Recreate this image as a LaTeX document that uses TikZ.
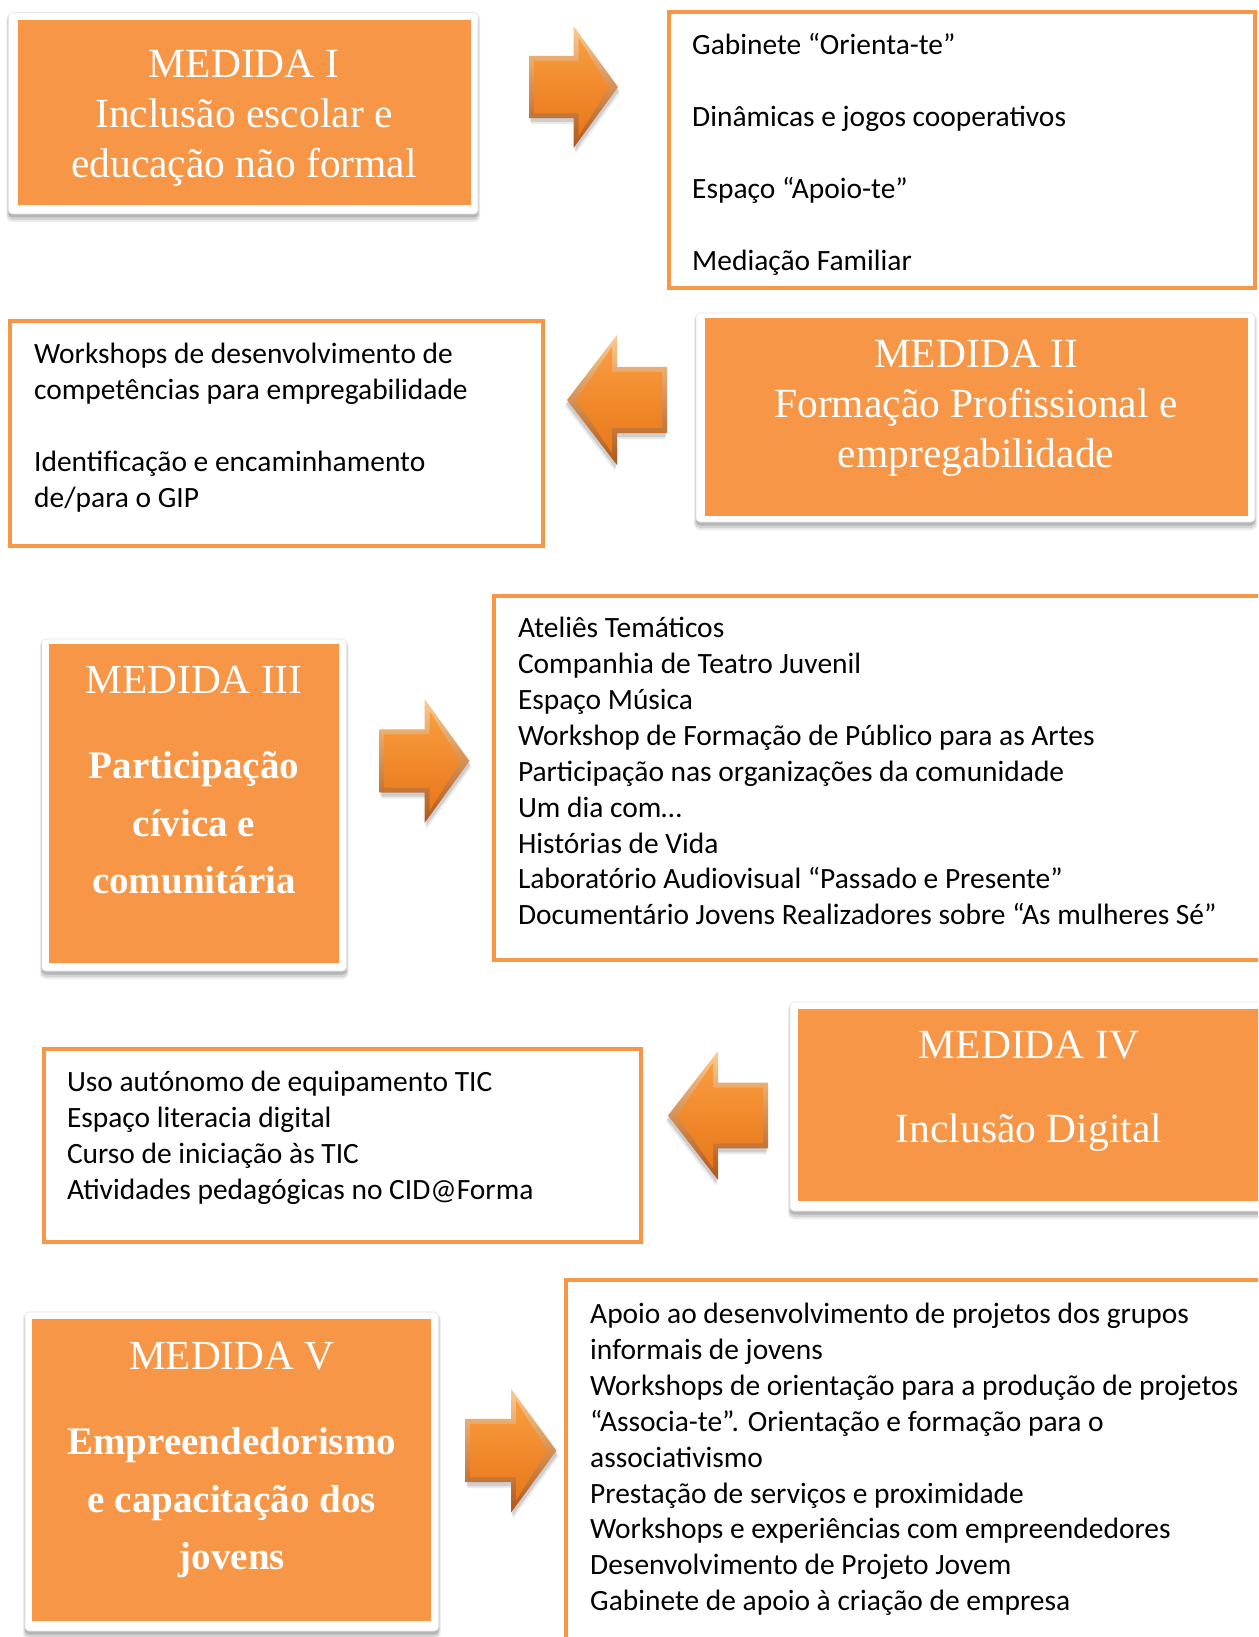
\documentclass[tikz,border=0pt]{standalone}
\usepackage{fontspec}
\setmainfont{Liberation Serif}
\newfontfamily\bodyfont{Carlito}
\usetikzlibrary{calc}
\definecolor{accent}{HTML}{F79646}
\definecolor{arrlight}{HTML}{FDCB8E}
\definecolor{arrdark}{HTML}{B0561A}
\definecolor{arrtop}{HTML}{F99C40}
\definecolor{arrmid}{HTML}{F58A20}
\definecolor{arrbot}{HTML}{E8781A}
\tikzset{
  listframe/.style={draw=accent, line width=4pt},
  listtext/.style={anchor=north west, inner sep=0pt, align=left,
    font=\bodyfont\fontsize{29.45}{35.9}\selectfont},
  medtext/.style={anchor=north, inner sep=0pt, align=center, text=white},
  medfill/.style={fill=accent},
  medframe/.style={fill=white, draw=black!10, line width=0.6pt, rounded corners=4pt},
}
\newcommand\bt{\bfseries\fontsize{39}{57.5}\selectfont}
% #1..#4 frame corners, #5..#8 orange corners
\newcommand\medbox[8]{%
  \fill[black, opacity=0.08, rounded corners=6pt] (#1-2,#2+1) rectangle (#3+2,#4+8);
  \fill[black, opacity=0.10, rounded corners=5pt] (#1-1,#2+2) rectangle (#3+1,#4+6);
  \fill[black, opacity=0.14, rounded corners=4pt] (#1,#2+3) rectangle (#3,#4+3.5);
  \path[medframe] (#1,#2) rectangle (#3,#4);
  \path[medfill] (#5,#6) rectangle (#7,#8);
}
% #1 direction (1 right, -1 left), #2 cx, #3 cy, #4 W, #5 H
\newcommand\blockarrow[5]{%
  \begin{scope}[shift={(#2,#3)}, xscale=#1]
    \pgfmathsetmacro\hw{#4/2}
    \pgfmathsetmacro\hh{#5/2}
    \pgfmathsetmacro\sh{0.255*#5}
    \def\bv{5}
    \fill[black, opacity=0.08, shift={(2,6)}]
      (-\hw,-\sh) -- (0,-\sh) -- (0,-\hh) -- (\hw,0) -- (0,\hh) -- (0,\sh) -- (-\hw,\sh) -- cycle;
    \fill[black, opacity=0.12, shift={(1,4)}]
      (-\hw,-\sh) -- (0,-\sh) -- (0,-\hh) -- (\hw,0) -- (0,\hh) -- (0,\sh) -- (-\hw,\sh) -- cycle;
    \shade[top color=arrlight, bottom color=arrdark]
      (-\hw,-\sh) -- (0,-\sh) -- (0,-\hh) -- (\hw,0) -- (0,\hh) -- (0,\sh) -- (-\hw,\sh) -- cycle;
    \shade[top color=arrtop, middle color=arrmid, bottom color=arrbot]
      ({-\hw+\bv},{-\sh+\bv}) -- (\bv,{-\sh+\bv}) -- (\bv,{-\hh+2.4*\bv}) -- ({\hw-1.8*\bv},0)
      -- (\bv,{\hh-2.4*\bv}) -- (\bv,{\sh-\bv}) -- ({-\hw+\bv},{\sh-\bv}) -- cycle;
  \end{scope}}
\begin{document}
\begin{tikzpicture}[x=1pt, y=-1pt]
\useasboundingbox (0,0) rectangle (1258,1637);
\fill[white] (0,0) rectangle (1258,1637);
\clip (0,0) rectangle (1258,1637);

% ---------- Medida I ----------
\medbox{8.4}{12.5}{478}{214}{17.7}{19.8}{471}{204.6}
\node[medtext, font=\fontsize{41.5}{50}\selectfont] (m1) at (244,35)
  {\rule{0pt}{42pt}MEDIDA I\\Inclusão escolar e\\educação não formal};
\blockarrow{1}{573.5}{87}{89}{122}
\draw[listframe] (669,12.5) rectangle (1255,288);
\node[listtext] (l1) at (692,24.7)
  {\rule{0pt}{30pt}Gabinete “Orienta-te”\\[35.85pt]%
   Dinâmicas e jogos cooperativos\\[35.85pt]%
   Espaço “Apoio-te”\\[35.85pt]%
   Mediação Familiar};

% ---------- Medida II ----------
\draw[listframe] (10.4,320.5) rectangle (543,546);
\node[listtext] (l2) at (34,333.5)
  {\rule{0pt}{30pt}Workshops de desenvolvimento de\\%
   competências para empregabilidade\\[35.9pt]%
   Identificação e encaminhamento\\%
   de/para o GIP};
\blockarrow{-1}{617}{400}{100}{130}
\medbox{696}{313}{1255}{522}{704.7}{318.4}{1247.6}{515.7}
\node[medtext, font=\fontsize{41.5}{50}\selectfont] (m2) at (976,325.7)
  {\rule{0pt}{42pt}MEDIDA II\\Formação Profissional e\\empregabilidade};

% ---------- Medida III ----------
\medbox{41.8}{639}{346.6}{971}{49}{644}{339}{962.5}
\node[medtext, font=\fontsize{41.3}{57.5}\selectfont] (m3) at (194,651.3)
  {\rule{0pt}{42pt}MEDIDA III\\[27.5pt]%
   \bt Participação\\\bt cívica e\\\bt comunitária};
\blockarrow{1}{424.5}{761}{90}{124}
\draw[listframe] (494,596) rectangle (1275,959.5);
\node[listtext] (l3) at (517.8,607.4)
  {\rule{0pt}{30pt}Ateliês Temáticos\\%
   Companhia de Teatro Juvenil\\%
   Espaço Música\\%
   Workshop de Formação de Público para as Artes\\%
   Participação nas organizações da comunidade\\%
   Um dia com…\\%
   Histórias de Vida\\%
   Laboratório Audiovisual “Passado e Presente”\\%
   Documentário Jovens Realizadores sobre “As mulheres Sé”};

% ---------- Medida IV ----------
\draw[listframe] (43.8,1049) rectangle (641,1242);
\node[listtext] (l4) at (66.8,1061.6)
  {\rule{0pt}{30pt}Uso autónomo de equipamento TIC\\%
   Espaço literacia digital\\%
   Curso de iniciação às TIC\\%
   Atividades pedagógicas no CID@Forma};
\blockarrow{-1}{718}{1115.5}{100}{129}
\medbox{790}{1002}{1275}{1211}{797.6}{1008.5}{1275}{1200.6}
\node[medtext, font=\fontsize{41.5}{50}\selectfont] (m4) at (1029,1016.7)
  {\rule{0pt}{42pt}MEDIDA IV\\[34pt]Inclusão Digital};

% ---------- Medida V ----------
\medbox{25}{1312}{438.5}{1631}{32.4}{1318.5}{431}{1621}
\node[medtext, font=\fontsize{41.3}{57.5}\selectfont] (m5) at (231.8,1327.3)
  {\rule{0pt}{42pt}MEDIDA V\\[27.5pt]%
   \bt Empreendedorismo\\\bt e capacitação dos\\\bt jovens};
\blockarrow{1}{511}{1450.6}{91}{124}
\draw[listframe] (566,1280) rectangle (1275,1660);
\node[listtext] (l5) at (590,1293.3)
  {\rule{0pt}{30pt}Apoio ao desenvolvimento de projetos dos grupos\\%
   informais de jovens\\%
   Workshops de orientação para a produção de projetos\\%
   “Associa-te”. Orientação e formação para o\\%
   associativismo\\%
   Prestação de serviços e proximidade\\%
   Workshops e experiências com empreendedores\\%
   Desenvolvimento de Projeto Jovem\\%
   Gabinete de apoio à criação de empresa};
\end{tikzpicture}
\end{document}
